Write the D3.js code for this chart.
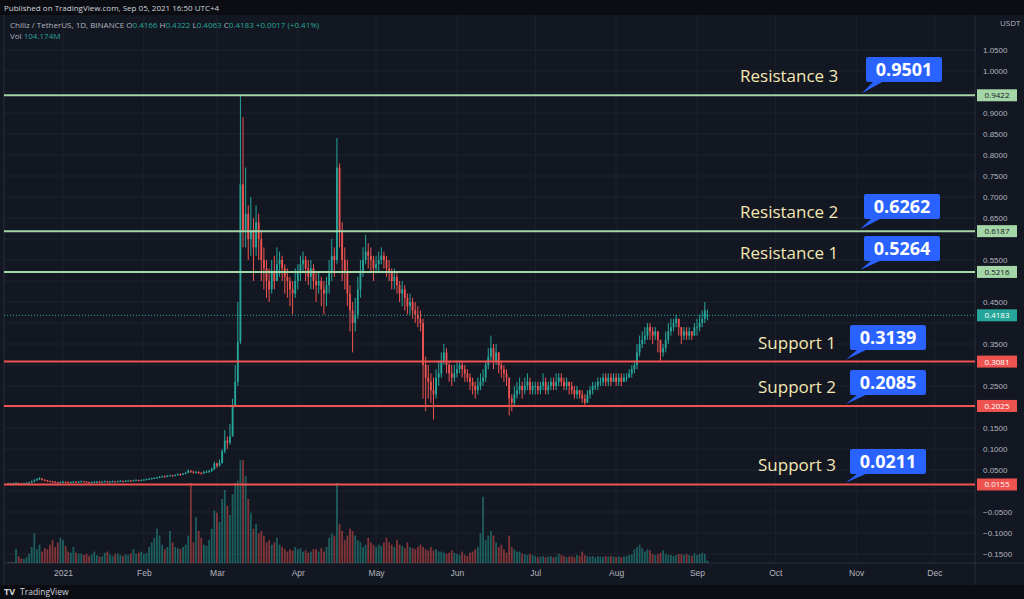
<!DOCTYPE html>
<html>
<head>
<meta charset="utf-8">
<script src="https://cdn.jsdelivr.net/npm/d3@7"></script>
<style>
body { margin:0; background:#131722; }
svg { display:block; font-family:"Open Sans", "DejaVu Sans", sans-serif; }
</style>
</head>
<body>
<svg width="1024" height="599"></svg>
<script>
// daily candles CHZ/USDT, from 2020-12-11 to 2021-09-05 (open = previous close)
var closes = [
 .018,.017,.018,.019,.018,.017,.018,.019,.020,.022,.025,.028,.030,.027,.025,.024,.023,.022,.021,.020,.021,
 .022,.021,.020,.021,.022,.021,.022,.023,.022,.021,.020,.021,.022,.022,.021,.022,.023,.022,.022,.023,.022,.023,.024,.023,.024,.025,.024,.025,.026,.025,.026,
 .027,.028,.029,.030,.031,.032,.033,.035,.034,.036,.037,.036,.038,.040,.039,.041,.043,.048,.046,.044,.045,.043,.042,.045,.046,.047,.052,.065,
 .060,.067,.095,.12,.115,.13,.20,.26,.355,.73,.62,.66,.60,.62,.58,.64,.60,.55,.53,.50,.48,.52,.50,.54,.55,.53,.51,.50,.48,.47,.50,
 .52,.54,.55,.53,.51,.53,.50,.49,.50,.48,.47,.49,.52,.56,.55,.77,.62,.55,.52,.47,.43,.40,.42,.48,.52,.55,.57,.56,.55,.53,
 .54,.55,.56,.55,.53,.52,.50,.51,.49,.47,.48,.46,.44,.45,.43,.42,.41,.40,.30,.27,.26,.24,.23,.27,.28,.31,.33,.30,.28,.27,.28,
 .29,.30,.29,.28,.27,.26,.25,.24,.25,.26,.27,.30,.32,.34,.31,.33,.30,.29,.28,.27,.22,.21,.23,.24,.25,.24,.25,.26,.24,.25,
 .25,.24,.25,.26,.24,.25,.26,.25,.26,.27,.26,.25,.26,.25,.24,.23,.24,.23,.22,.21,.23,.24,.25,.25,.26,.26,.27,.26,.27,.26,.27,
 .26,.27,.26,.27,.27,.28,.29,.30,.33,.35,.36,.37,.39,.38,.37,.38,.36,.33,.34,.36,.38,.39,.40,.41,.39,.37,.38,.37,.38,.37,.39,
 .39,.40,.41,.43,.4183
];
var highs = [
 .020,.019,.020,.021,.020,.019,.020,.021,.022,.025,.028,.031,.033,.031,.028,.026,.025,.024,.023,.022,.023,
 .024,.023,.023,.023,.024,.023,.024,.025,.024,.023,.022,.023,.024,.024,.023,.024,.025,.024,.024,.025,.024,.025,.026,.025,.026,.027,.026,.027,.028,.027,.028,
 .029,.030,.031,.032,.033,.034,.036,.037,.037,.038,.039,.039,.040,.042,.042,.043,.046,.052,.050,.048,.048,.047,.045,.048,.049,.050,.056,.070,
 .068,.075,.10,.145,.13,.16,.22,.30,.45,.9422,.89,.77,.68,.70,.65,.68,.66,.62,.58,.55,.53,.55,.56,.58,.57,.56,.54,.53,.51,.50,.53,
 .54,.56,.57,.56,.55,.55,.54,.52,.52,.51,.50,.51,.55,.60,.58,.84,.78,.64,.58,.55,.49,.45,.46,.51,.55,.58,.61,.59,.58,.56,
 .56,.57,.58,.57,.56,.55,.53,.53,.52,.50,.50,.49,.47,.47,.46,.45,.44,.43,.41,.32,.30,.28,.27,.29,.31,.33,.35,.34,.31,.30,.30,
 .31,.31,.31,.30,.29,.28,.27,.26,.27,.28,.29,.31,.34,.37,.35,.35,.33,.31,.30,.29,.27,.23,.25,.26,.27,.26,.27,.28,.27,.26,
 .26,.26,.26,.28,.27,.26,.27,.27,.28,.28,.28,.27,.27,.26,.26,.25,.25,.24,.24,.23,.24,.25,.26,.26,.27,.27,.28,.28,.28,.28,.28,
 .28,.28,.28,.28,.28,.29,.30,.31,.35,.37,.38,.39,.40,.40,.39,.39,.38,.36,.35,.38,.40,.41,.41,.42,.41,.39,.39,.39,.39,.38,.40,
 .41,.42,.43,.45,.4322
];
var lows = [
 .016,.015,.016,.017,.016,.015,.016,.017,.018,.019,.021,.024,.026,.025,.023,.022,.021,.020,.019,.018,.019,
 .020,.019,.018,.019,.020,.019,.020,.021,.020,.019,.018,.019,.020,.020,.019,.020,.021,.020,.020,.021,.020,.021,.022,.021,.022,.023,.022,.023,.024,.023,.024,
 .025,.026,.027,.028,.029,.030,.031,.032,.032,.033,.035,.034,.035,.037,.036,.038,.040,.042,.043,.041,.042,.040,.039,.041,.043,.044,.046,.050,
 .055,.058,.065,.09,.10,.11,.13,.20,.25,.35,.58,.58,.55,.56,.50,.56,.55,.50,.48,.46,.45,.47,.48,.50,.51,.50,.47,.46,.44,.42,.46,
 .48,.50,.52,.50,.49,.48,.48,.45,.47,.44,.42,.44,.47,.50,.51,.54,.58,.50,.48,.44,.38,.33,.38,.41,.46,.51,.54,.53,.52,.50,
 .52,.52,.54,.53,.51,.50,.48,.48,.47,.45,.44,.43,.42,.42,.41,.40,.39,.38,.22,.19,.22,.21,.17,.22,.25,.27,.30,.28,.26,.25,.26,
 .27,.28,.27,.26,.26,.24,.23,.22,.23,.24,.25,.26,.29,.31,.29,.30,.28,.27,.26,.25,.18,.19,.20,.22,.23,.22,.23,.24,.23,.23,
 .23,.23,.23,.24,.23,.23,.24,.24,.24,.25,.25,.24,.24,.23,.23,.22,.22,.22,.21,.20,.21,.22,.23,.24,.24,.25,.25,.25,.25,.25,.26,
 .25,.25,.25,.26,.26,.27,.27,.28,.29,.32,.34,.35,.36,.36,.35,.36,.33,.31,.32,.33,.35,.37,.38,.39,.37,.35,.36,.36,.36,.36,.37,
 .37,.38,.39,.40,.4063
];
// volume, millions
var volumes = [
 40,40,50,620,300,200,180,250,400,700,1300,600,800,500,650,600,800,1000,700,900,1100,
 1000,750,500,450,700,450,420,400,350,400,300,380,500,350,280,300,450,500,380,300,400,420,350,300,380,350,420,600,400,450,500,
 400,450,700,900,1100,1500,1200,800,600,700,1400,900,700,650,600,700,800,1200,3500,900,2000,1400,1100,800,750,1000,1500,2300,
 2200,1800,2800,3200,2500,2100,3000,3500,3600,4500,4500,3800,2800,2200,1500,1700,1300,1400,1200,900,1000,800,900,1100,800,700,600,500,600,550,700,
 600,650,500,550,450,500,600,600,500,650,500,700,1100,1300,1200,3500,1700,1400,1000,1200,1500,1400,1200,1000,900,700,800,1100,900,800,
 700,800,750,900,1100,900,800,700,1000,800,750,650,900,700,650,600,700,800,700,600,550,700,550,600,500,500,450,400,450,550,450,
 400,350,500,350,300,450,500,600,700,1300,2900,1000,1200,1400,1200,900,700,800,600,450,1200,700,600,500,500,400,380,350,400,350,
 300,250,280,300,250,280,300,250,280,400,350,300,250,280,300,250,350,300,500,350,300,280,300,250,300,280,260,300,280,300,280,
 260,300,250,280,300,350,380,600,700,800,650,500,600,550,400,350,380,450,550,400,350,350,300,350,400,380,350,400,350,300,420,
 350,400,450,400,104
];
var startDate = new Date(2020, 11, 11);

var lineValues = [0.9422, 0.6187, 0.5216, 0.3081, 0.2025, 0.0155];
var lineKinds = ["res", "res", "res", "sup", "sup", "sup"];
var levelNames = ["Resistance 3", "Resistance 2", "Resistance 1", "Support 1", "Support 2", "Support 3"];
var levelValues = ["0.9501", "0.6262", "0.5264", "0.3139", "0.2085", "0.0211"];
var monthTicks = ["2021","Feb","Mar","Apr","May","Jun","Jul","Aug","Sep","Oct","Nov","Dec"];
var lastPrice = 0.4183;

var svg = d3.select("svg");
var W = 1024, H = 599, axisX = 975, timeY = 563;

var x = d3.scaleTime()
	.domain([new Date(2021,0,1), new Date(2021,8,1)])
	.range([63, 697]);
var y = d3.scaleLinear().domain([0, 1]).range([491, 71]);
var vy = d3.scaleLinear().domain([0, 3500]).range([timeY, timeY - 80]);

var data = closes.map(function(c, i) {
	var d = new Date(startDate); d.setDate(d.getDate() + i);
	var o = i == 0 ? c : closes[i-1];
	if (i == closes.length - 1) o = 0.4166;
	return {date:d, open:o, high:highs[i], low:lows[i], close:c, vol:volumes[i]};
});

// background
svg.append("rect").attr("width", W).attr("height", H).attr("fill", "#131722");
svg.append("rect").attr("width", W).attr("height", 15).attr("fill", "#0b0d13");
svg.append("rect").attr("y", 585).attr("width", W).attr("height", 14).attr("fill", "#0b0d13");

// grid
var yTicks = d3.range(-0.15, 1.0501, 0.05);
svg.append("g").selectAll("line").data(yTicks).join("line")
	.attr("x1", 4).attr("x2", axisX).attr("y1", function(d){return y(d)}).attr("y2", function(d){return y(d)})
	.attr("stroke", "#1e222d");
var months = d3.range(0, 12).map(function(m){ return new Date(2021, m, 1); });
svg.append("g").selectAll("line").data(months).join("line")
	.attr("x1", function(d){return x(d)}).attr("x2", function(d){return x(d)})
	.attr("y1", 15).attr("y2", timeY).attr("stroke", "#1e222d");

// frame lines
svg.append("line").attr("x1", axisX).attr("x2", axisX).attr("y1", 15).attr("y2", 585).attr("stroke", "#2a2e39");
svg.append("line").attr("x1", 4).attr("x2", W).attr("y1", timeY).attr("y2", timeY).attr("stroke", "#2a2e39");
svg.append("line").attr("x1", 4).attr("x2", 4).attr("y1", 15).attr("y2", 585).attr("stroke", "#2a2e39");

// volume
var bw = 1.8;
svg.append("g").selectAll("rect").data(data).join("rect")
	.attr("x", function(d){return x(d.date) - bw/2}).attr("width", bw)
	.attr("y", function(d){return vy(d.vol)}).attr("height", function(d){return timeY - vy(d.vol)})
	.attr("fill", function(d){return d.close >= d.open ? "rgba(38,166,154,0.5)" : "rgba(239,83,80,0.5)"});

// candles
var cg = svg.append("g");
cg.selectAll("line").data(data).join("line")
	.attr("x1", function(d){return x(d.date)}).attr("x2", function(d){return x(d.date)})
	.attr("y1", function(d){return y(d.high)}).attr("y2", function(d){return y(d.low)})
	.attr("stroke", function(d){return d.close >= d.open ? "#26a69a" : "#ef5350"}).attr("stroke-width", 1);
cg.selectAll("rect").data(data).join("rect")
	.attr("x", function(d){return x(d.date) - bw/2}).attr("width", bw)
	.attr("y", function(d){return y(Math.max(d.open, d.close))})
	.attr("height", function(d){return Math.max(1, Math.abs(y(d.open) - y(d.close)))})
	.attr("fill", function(d){return d.close >= d.open ? "#26a69a" : "#ef5350"});

// last price dotted line
svg.append("line").attr("x1", 4).attr("x2", axisX).attr("y1", y(lastPrice)).attr("y2", y(lastPrice))
	.attr("stroke", "#26a69a").attr("stroke-dasharray", "1,2");

// levels
svg.append("g").selectAll("line").data(lineValues).join("line")
	.attr("x1", 4).attr("x2", axisX).attr("y1", function(d){return y(d)}).attr("y2", function(d){return y(d)})
	.attr("stroke", function(d,i){return lineKinds[i] == "res" ? "#a5d6a7" : "#ef5350"}).attr("stroke-width", 2);

// price axis (hide tick labels covered by price tags)
var tagValues = lineValues.concat([lastPrice]);
var visibleTicks = yTicks.filter(function(t){
	return tagValues.every(function(v){ return Math.abs(y(t) - y(v)) > 10; });
});
var yAxis = svg.append("g").attr("transform", "translate(" + axisX + ",0)")
	.call(d3.axisRight(y).tickValues(visibleTicks).tickFormat(d3.format(".4f")).tickSize(0).tickPadding(8));
yAxis.select(".domain").remove();
yAxis.selectAll("text").attr("fill", "#b2b5be").attr("font-size", 8);
svg.append("text").attr("x", 1000).attr("y", 26).attr("fill", "#b2b5be").attr("font-size", 8).text("USDT");

// price tags
function tag(v, fill, color) {
	svg.append("rect").attr("x", axisX + 2).attr("y", y(v) - 6).attr("width", 40).attr("height", 12).attr("fill", fill);
	svg.append("text").attr("x", axisX + 22).attr("y", y(v) + 3).attr("text-anchor", "middle")
		.attr("fill", color).attr("font-size", 8).text(d3.format(".4f")(v));
}
lineValues.forEach(function(v, i){ tag(v, lineKinds[i] == "res" ? "#a5d6a7" : "#ef5350", lineKinds[i] == "res" ? "#131722" : "#fff"); });
tag(lastPrice, "#26a69a", "#fff");

// time axis
var xAxis = svg.append("g").attr("transform", "translate(0," + timeY + ")")
	.call(d3.axisBottom(x).tickValues(months).tickFormat(function(d,i){return monthTicks[i]}).tickSize(0).tickPadding(7));
xAxis.select(".domain").remove();
xAxis.selectAll("text").attr("fill", "#b2b5be").attr("font-size", 8.5);

// annotations
var labelLayout = [
	{tx:740, bx:866, by:57},
	{tx:740, bx:864, by:194},
	{tx:740, bx:864, by:236},
	{tx:758, bx:850, by:325},
	{tx:758, bx:850, by:370},
	{tx:758, bx:850, by:449}
];
labelLayout.forEach(function(L, i) {
	var ly = y(lineValues[i]);
	svg.append("text").attr("x", L.tx).attr("y", ly - 13).attr("fill", "#f3e7b3")
		.attr("font-size", 17).text(levelNames[i]);
	svg.append("path")
		.attr("d", "M" + (L.bx + 8) + "," + (L.by + 24) + "L" + (L.bx - 4) + "," + (ly - 2) + "L" + (L.bx + 18) + "," + (L.by + 24) + "Z")
		.attr("fill", "#2962ff");
	svg.append("rect").attr("x", L.bx).attr("y", L.by).attr("width", 76).attr("height", 25).attr("rx", 2).attr("fill", "#2962ff");
	svg.append("text").attr("x", L.bx + 38).attr("y", L.by + 19).attr("text-anchor", "middle")
		.attr("fill", "#fff").attr("font-size", 18).attr("font-weight", "bold").text(levelValues[i]);
});

// header texts
svg.append("text").attr("x", 4).attr("y", 11).attr("fill", "#d1d4dc").attr("font-size", 8).text("Published on TradingView.com, Sep 05, 2021 16:50 UTC+4");
var leg = svg.append("text").attr("x", 10).attr("y", 28).attr("font-size", 8).attr("fill", "#b2b5be");
leg.append("tspan").text("Chiliz / TetherUS, 1D, BINANCE  O");
leg.append("tspan").attr("fill", "#26a69a").text("0.4166");
leg.append("tspan").text("  H");
leg.append("tspan").attr("fill", "#26a69a").text("0.4322");
leg.append("tspan").text("  L");
leg.append("tspan").attr("fill", "#26a69a").text("0.4063");
leg.append("tspan").text("  C");
leg.append("tspan").attr("fill", "#26a69a").text("0.4183  +0.0017 (+0.41%)");
var vol = svg.append("text").attr("x", 10).attr("y", 39).attr("font-size", 8).attr("fill", "#b2b5be");
vol.append("tspan").text("Vol  ");
vol.append("tspan").attr("fill", "#26a69a").text("104.174M");
svg.append("text").attr("x", 4).attr("y", 595).attr("fill", "#d1d4dc").attr("font-size", 9).attr("font-weight", "bold").text("TV");
svg.append("text").attr("x", 20).attr("y", 595).attr("fill", "#d1d4dc").attr("font-size", 8.5).text("TradingView");
</script>
</body>
</html>
